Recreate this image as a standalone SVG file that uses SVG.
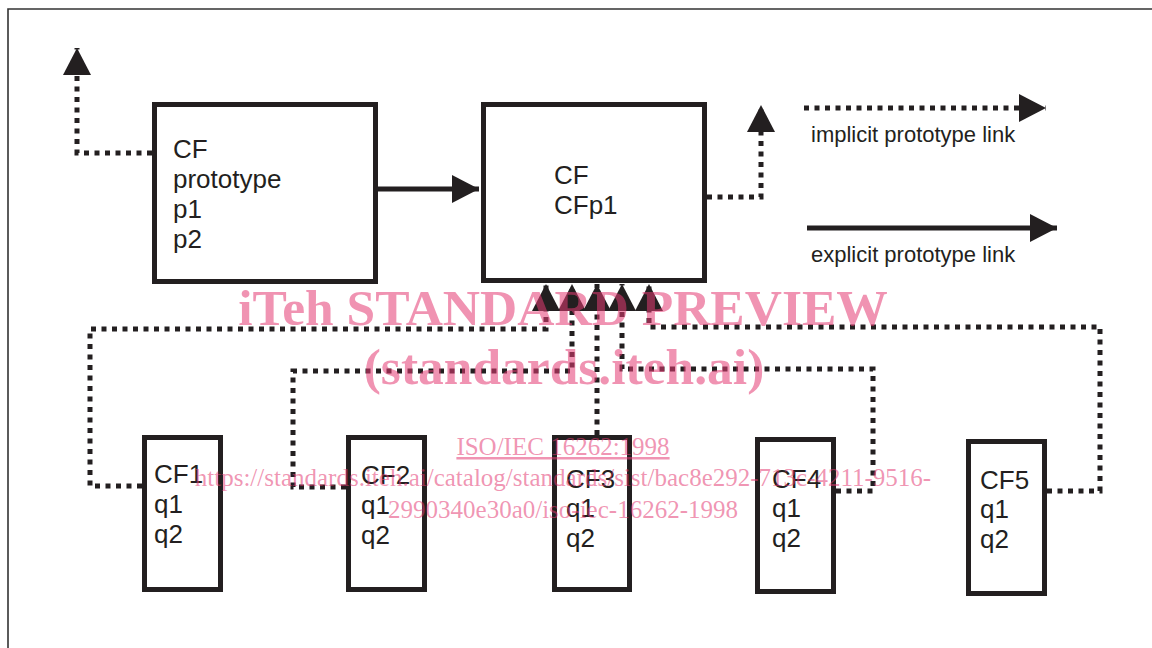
<svg xmlns="http://www.w3.org/2000/svg" width="1152" height="648" viewBox="0 0 1152 648">
<style>
.box{fill:#fff;stroke:#231f20;stroke-width:5}
.lbl{font-family:"Liberation Sans",Arial,sans-serif;font-size:26px;fill:#231f20}
.leg{font-family:"Liberation Sans",Arial,sans-serif;font-size:22px;fill:#231f20}
.solid{fill:none;stroke:#231f20;stroke-width:5}
.dot{fill:none;stroke:#231f20;stroke-width:5;stroke-dasharray:5 5.5}
.wm{font-family:"Liberation Serif","Times New Roman",serif;fill:#E33A72;fill-opacity:0.55;text-anchor:middle}
</style>
<defs>
<marker id="ah" viewBox="0 0 27 28" refX="27" refY="14" markerWidth="27" markerHeight="28" markerUnits="userSpaceOnUse" orient="auto">
<path d="M0,0 L27,14 L0,28 Z" fill="#231f20"/>
</marker>
</defs>
<rect width="1152" height="648" fill="#fff"/>
<path d="M8,648 V9 H1152" fill="none" stroke="#333" stroke-width="1.6"/>

<g id="connectors">
<path class="solid" d="M378,189 H479" marker-end="url(#ah)"/>
<path class="dot" d="M152,153 H77 V48" marker-end="url(#ah)"/>
<path class="dot" d="M707,197 H761 V105" marker-end="url(#ah)"/>
<path class="dot" d="M804,108 H1046" marker-end="url(#ah)"/>
<path class="solid" d="M807,228 H1057" marker-end="url(#ah)"/>
<path class="dot" d="M142,486 H90 V329 H546 V284" marker-end="url(#ah)"/>
<path class="dot" d="M346,487 H293 V371 H572 V284" marker-end="url(#ah)"/>
<path class="dot" d="M597,435 V284" marker-end="url(#ah)"/>
<path class="dot" d="M836,491 H873 V369 H622 V284" marker-end="url(#ah)"/>
<path class="dot" d="M1047,491 H1100 V327 H649 V284" marker-end="url(#ah)"/>
</g>

<g id="cf-prototype">
<rect class="box" x="154.5" y="104.5" width="221" height="177"/>
<text class="lbl" x="173" y="158">CF</text>
<text class="lbl" x="173" y="188">prototype</text>
<text class="lbl" x="173" y="218">p1</text>
<text class="lbl" x="173" y="248">p2</text>
</g>

<g id="cf-cfp1">
<rect class="box" x="483.5" y="104.5" width="221" height="176"/>
<text class="lbl" x="554" y="184">CF</text>
<text class="lbl" x="554" y="214">CFp1</text>
</g>

<g id="cf1">
<rect class="box" x="144.5" y="437.5" width="76" height="152"/>
<text class="lbl" x="154" y="483">CF1</text>
<text class="lbl" x="154" y="513">q1</text>
<text class="lbl" x="154" y="543">q2</text>
</g>
<g id="cf2">
<rect class="box" x="348.5" y="437.5" width="76" height="152"/>
<text class="lbl" x="361" y="484">CF2</text>
<text class="lbl" x="361" y="514">q1</text>
<text class="lbl" x="361" y="544">q2</text>
</g>
<g id="cf3">
<rect class="box" x="554.5" y="437.5" width="75" height="152"/>
<text class="lbl" x="566" y="488">CF3</text>
<text class="lbl" x="566" y="517">q1</text>
<text class="lbl" x="566" y="547">q2</text>
</g>
<g id="cf4">
<rect class="box" x="757.5" y="439.5" width="76" height="152"/>
<text class="lbl" x="772" y="488">CF4</text>
<text class="lbl" x="772" y="517">q1</text>
<text class="lbl" x="772" y="547">q2</text>
</g>
<g id="cf5">
<rect class="box" x="968.5" y="441.5" width="76" height="152"/>
<text class="lbl" x="980" y="489">CF5</text>
<text class="lbl" x="980" y="518">q1</text>
<text class="lbl" x="980" y="548">q2</text>
</g>

<g id="legend">
<text class="leg" x="811" y="142">implicit prototype link</text>
<text class="leg" x="811" y="262">explicit prototype link</text>
</g>

<g id="watermark">
<text class="wm" x="563" y="325" font-size="51.5" font-weight="bold">iTeh STANDARD PREVIEW</text>
<text class="wm" x="564" y="384" font-size="51.5" font-weight="bold">(standards.iteh.ai)</text>
<text class="wm" x="563" y="455" font-size="25" text-decoration="underline">ISO/IEC 16262:1998</text>
<text class="wm" x="563" y="486" font-size="25">https://standards.iteh.ai/catalog/standards/sist/bac8e292-713c-4211-9516-</text>
<text class="wm" x="563" y="518" font-size="25">2990340e30a0/iso-iec-16262-1998</text>
</g>
</svg>
